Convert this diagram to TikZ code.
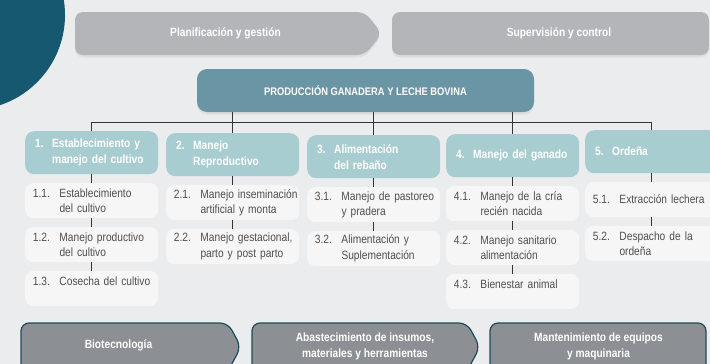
\documentclass[tikz,border=0pt]{standalone}
\usepackage{fontspec}
\setmainfont{Liberation Sans}[FakeStretch=0.85]
\usetikzlibrary{positioning,shadows}

\definecolor{bgcol}{HTML}{EBECEE}
\definecolor{circcol}{HTML}{15586F}
\definecolor{barcol}{HTML}{B4B5B9}
\definecolor{maincol}{HTML}{6A95A4}
\definecolor{catcol}{HTML}{A8CDD0}
\definecolor{subcol}{HTML}{F6F6F7}
\definecolor{subtext}{HTML}{4F4F4F}
\definecolor{botcol}{HTML}{8C8F93}
\definecolor{botline}{HTML}{1D4B5C}
\definecolor{linecol}{HTML}{333333}

\newcommand{\cattwo}[3]{\makebox[17pt][l]{#1}\mbox{#2}\\\hspace*{17pt}\mbox{#3}}
\newcommand{\catone}[2]{\makebox[17pt][l]{#1}\mbox{#2}}
\newcommand{\subtwo}[3]{\makebox[26.6pt][l]{#1}\mbox{#2}\\\hspace*{26.6pt}\mbox{#3}}
\newcommand{\subone}[2]{\makebox[26.6pt][l]{#1}\mbox{#2}}

\tikzset{
  softshadow/.style={drop shadow={opacity=0.12, shadow xshift=0pt, shadow yshift=-2.5pt}},
  bartext/.style={text=white, font=\bfseries\fontsize{12}{16}\selectfont},
  mainbox/.style={fill=maincol, rounded corners=10pt, text=white,
    font=\bfseries\fontsize{11}{14}\selectfont, minimum width=337pt,
    minimum height=43pt, softshadow},
  catbox/.style={fill=catcol, rounded corners=9pt, text=white,
    font=\bfseries\fontsize{12}{16}\selectfont, text width=113pt,
    inner xsep=10pt, inner ysep=0pt, minimum height=43pt, align=left,
    anchor=north west},
  subbox/.style={fill=subcol, rounded corners=8pt, text=subtext,
    font=\fontsize{12}{15.4}\selectfont, text width=117.6pt,
    inner xsep=7.7pt, inner ysep=0pt, minimum height=35pt, align=left},
  bottext/.style={text=white, font=\bfseries\fontsize{12}{16}\selectfont,
    align=center},
  link/.style={draw=linecol, line width=1pt}
}

\begin{document}
\begin{tikzpicture}[x=1pt, y=-1pt]

  \useasboundingbox (0,0) rectangle (710,364);
  \clip (0,0) rectangle (710,364);
  \fill[bgcol] (0,0) rectangle (710,364);

  % Corner circle
  \fill[circcol] (-30,15) circle (95pt);

  % Top bars
  \fill[barcol, rounded corners=8pt, softshadow]
    (75,12) -- (365,12) -- (382,33.5) -- (365,55) -- (75,55) -- cycle;
  \fill[barcol, rounded corners=8pt, softshadow] (392,12) rectangle (709,55);
  \node[bartext] (plan) at (225.5,33.5) {Planificación y gestión};
  \node[bartext] (super) at (559,33.5) {Supervisión y control};

  % Main box
  \node[mainbox] (main) at (365.5,90.5) {PRODUCCIÓN GANADERA Y LECHE BOVINA};

  % Categories
  \node[catbox] (c1) at (25,131) {\cattwo{1.}{Establecimiento y}{manejo del cultivo}};
  \node[catbox] (c2) at (166,133) {\cattwo{2.}{Manejo}{Reproductivo}};
  \node[catbox] (c3) at (307,135) {\cattwo{3.}{Alimentación}{del rebaño}};
  \node[catbox] (c4) at (446,134) {\catone{4.}{Manejo del ganado}};
  \node[catbox] (c5) at (585,130) {\catone{5.}{Ordeña}};

  % Sub items
  \node[subbox, below=8.5pt of c1] (s11) {\subtwo{1.1.}{Establecimiento}{del cultivo}};
  \node[subbox, below=8.5pt of s11] (s12) {\subtwo{1.2.}{Manejo productivo}{del cultivo}};
  \node[subbox, below=8.5pt of s12] (s13) {\subtwo{1.3.}{Cosecha del cultivo}{}};
  \node[subbox, below=8.5pt of c2] (s21) {\subtwo{2.1.}{Manejo inseminación}{artificial y monta}};
  \node[subbox, below=8.5pt of s21] (s22) {\subtwo{2.2.}{Manejo gestacional,}{parto y post parto}};
  \node[subbox, below=8.5pt of c3] (s31) {\subtwo{3.1.}{Manejo de pastoreo}{y pradera}};
  \node[subbox, below=8.5pt of s31] (s32) {\subtwo{3.2.}{Alimentación y}{Suplementación}};
  \node[subbox, below=8.5pt of c4] (s41) {\subtwo{4.1.}{Manejo de la cría}{recién nacida}};
  \node[subbox, below=8.5pt of s41] (s42) {\subtwo{4.2.}{Manejo sanitario}{alimentación}};
  \node[subbox, below=8.5pt of s42] (s43) {\subtwo{4.3.}{Bienestar animal}{}};
  \node[subbox, below=8.5pt of c5] (s51) {\subone{5.1.}{Extracción lechera}};
  \node[subbox, below=8.5pt of s51] (s52) {\subtwo{5.2.}{Despacho de la}{ordeña}};

  % Tree lines
  \coordinate (bus) at (0,122);
  \draw[link] (c1.north) -- (c1.north |- bus) -- (c5.north |- bus) -- (c5.north);
  \foreach \c in {c2,c3,c4}
    \draw[link] (main.south -| \c.north) -- (\c.north);
  \foreach \a/\b in {c1/s11, s11/s12, s12/s13, c2/s21, s21/s22, c3/s31,
                     s31/s32, c4/s41, s41/s42, s42/s43, c5/s51, s51/s52}
    \draw[link] (\a.south) -- (\b.north);

  % Bottom bars
  \filldraw[fill=botcol, draw=botline, line width=1.2pt, rounded corners=8pt]
    (21,380) -- (21,323) -- (228,323) -- (241,347) -- (228,371) -- (21,371);
  \filldraw[fill=botcol, draw=botline, line width=1.2pt, rounded corners=8pt]
    (252,380) -- (252,323) -- (467,323) -- (480,347) -- (467,371) -- (252,371);
  \filldraw[fill=botcol, draw=botline, line width=1.2pt, rounded corners=8pt]
    (490,380) -- (490,323) -- (706,323) -- (706,380);
  \node[bottext] (bio) at (118.5,345) {Biotecnología};
  \node[bottext] (abas) at (365,346.5) {Abastecimiento de insumos,\\materiales y herramientas};
  \node[bottext] (mant) at (598.5,346.5) {Mantenimiento de equipos\\y maquinaria};

\end{tikzpicture}
\end{document}
